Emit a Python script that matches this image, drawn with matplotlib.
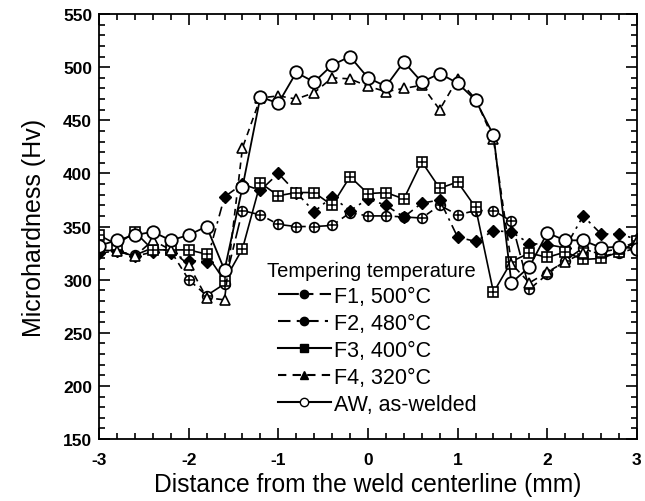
import matplotlib
matplotlib.use("Agg")
import matplotlib.pyplot as plt
from matplotlib.lines import Line2D
from matplotlib.ticker import MultipleLocator
import numpy as np

plt.rcParams['font.family'] = ['Liberation Sans', 'DejaVu Sans']
plt.rcParams['axes.unicode_minus'] = False

# distance from weld centerline (mm), every 0.2 mm
dist = np.round(np.arange(-3.0, 3.01, 0.2), 1)

f1 = [328, 327, 323, 330, 327, 300, 285, 296, 365, 361, 352, 350, 350, 351, 363, 360,
      360, 359, 358, 370, 361, 365, 365, 355, 291, 305, 318, 330, 322, 325, 330]
f2 = [325, 327, 322, 326, 325, 318, 317, 378, 390, 384, 400, 382, 364, 378, 365, 376,
      370, 359, 372, 375, 340, 336, 346, 345, 334, 333, 330, 360, 343, 343, 338]
f3 = [342, 333, 345, 328, 328, 328, 324, 299, 329, 391, 379, 382, 382, 370, 397, 381,
      382, 376, 411, 386, 392, 368, 288, 317, 325, 321, 326, 319, 320, 326, 336]
f4 = [330, 327, 322, 337, 328, 314, 283, 281, 424, 471, 473, 470, 476, 490, 489, 482,
      477, 480, 483, 460, 489, 470, 432, 315, 297, 307, 317, 325, 326, 329, 336]
aw = [332, 337, 342, 345, 337, 342, 350, 309, 387, 472, 466, 495, 486, 502, 510, 490,
      482, 505, 486, 494, 485, 469, 436, 297, 312, 344, 337, 337, 330, 331, 329]

labels = ['F1, 500°C', 'F2, 480°C', 'F3, 400°C', 'F4, 320°C', 'AW, as-welded']

fig = plt.figure(figsize=(6.45, 5.02), dpi=100)
ax = fig.add_axes([0.1535, 0.1235, 0.834, 0.8465])

ls1 = (0, (10, 3, 4, 3))
ls2 = (0, (6, 3, 1.5, 3))
ls4 = (0, (4, 3))

# F1: circle with cross
ax.plot(dist, f1, color='black', lw=1.2, ls=ls1, marker='o', ms=7,
        mfc='white', mec='black', mew=1.2)
ax.plot(dist, f1, ls='none', marker='+', ms=7, mec='black', mew=1.1)
# F2: filled diamonds
ax.plot(dist, f2, color='black', lw=1.2, ls=ls2, marker='D', ms=6,
        mfc='black', mec='black')
# F3: square with cross
ax.plot(dist, f3, color='black', lw=1.2, ls='-', marker='s', ms=7,
        mfc='white', mec='black', mew=1.2)
ax.plot(dist, f3, ls='none', marker='+', ms=7, mec='black', mew=1.1)
# F4: open triangles
ax.plot(dist, f4, color='black', lw=1.2, ls=ls4, marker='^', ms=7,
        mfc='white', mec='black', mew=1.2)
# AW: open circles
ax.plot(dist, aw, color='black', lw=1.3, ls='-', marker='o', ms=9,
        mfc='white', mec='black', mew=1.3)

handles = [
    Line2D([], [], color='black', lw=1.5, ls=ls1, marker='o', ms=6, mfc='black'),
    Line2D([], [], color='black', lw=1.5, ls=ls2, marker='o', ms=6, mfc='black'),
    Line2D([], [], color='black', lw=1.5, ls='-', marker='s', ms=6, mfc='black'),
    Line2D([], [], color='black', lw=1.5, ls=ls4, marker='^', ms=6, mfc='black'),
    Line2D([], [], color='black', lw=1.5, ls='-', marker='o', ms=6, mfc='white'),
]
leg = ax.legend(handles, labels, title='Tempering temperature', loc='upper left',
                bbox_to_anchor=(0.285, 0.455), frameon=False, fontsize=15.5,
                title_fontsize=14.5, handlelength=2.5, handletextpad=0.1,
                labelspacing=0.28, borderpad=0.2)
leg._legend_box.align = 'right'

ax.set_xlim(-3, 3)
ax.set_ylim(150, 550)
ax.xaxis.set_major_locator(MultipleLocator(1))
ax.xaxis.set_minor_locator(MultipleLocator(0.2))
ax.yaxis.set_major_locator(MultipleLocator(50))
ax.yaxis.set_minor_locator(MultipleLocator(10))
ax.tick_params(which='both', direction='in', top=True, right=True, width=1.2)
ax.tick_params(which='major', length=8, labelsize=12.5)
ax.tick_params(axis='x', which='major', pad=9)
ax.tick_params(axis='y', which='major', pad=5)
ax.tick_params(which='minor', length=4)
for lab in ax.get_xticklabels() + ax.get_yticklabels():
    lab.set_fontweight('bold')
for s in ax.spines.values():
    s.set_linewidth(1.3)

ax.set_xlabel('Distance from the weld centerline (mm)', fontsize=17.7, labelpad=4)
ax.set_ylabel('Microhardness (Hv)', fontsize=18, labelpad=12)

fig.savefig('out.png', dpi=100)
